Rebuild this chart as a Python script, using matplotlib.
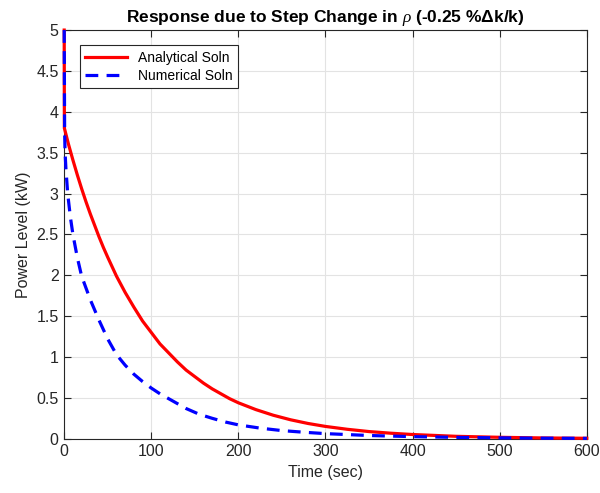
import matplotlib
matplotlib.use("Agg")
import matplotlib.pyplot as plt

plt.rcParams["font.family"] = ["Liberation Sans", "DejaVu Sans"]
plt.rcParams["mathtext.fontset"] = "custom"
plt.rcParams["mathtext.it"] = "Liberation Serif:italic"

# analytical solution
t_ana = [0, 0.2, 5, 10, 15, 20, 25, 30, 35, 40, 45, 50, 60, 70, 80, 90, 100, 110, 120,
         130, 140, 150, 160, 170, 180, 190, 200, 220, 240, 260, 280, 300, 325, 350,
         375, 400, 450, 500, 550, 600]
p_ana = [5.0, 3.8, 3.60, 3.41, 3.23, 3.06, 2.90, 2.75, 2.61, 2.47, 2.34, 2.22, 1.99,
         1.79, 1.61, 1.44, 1.30, 1.16, 1.05, 0.94, 0.84, 0.76, 0.68, 0.61, 0.55,
         0.49, 0.44, 0.357, 0.288, 0.232, 0.187, 0.151, 0.116, 0.088, 0.068, 0.052,
         0.030, 0.018, 0.010, 0.006]

# numerical solution
t_num = [0, 0.5, 1, 2, 4, 7, 10, 15, 20, 30, 40, 50, 60, 70, 80, 90, 100, 110, 125,
         140, 155, 170, 185, 200, 225, 250, 275, 300, 350, 400, 450, 500, 550, 600]
p_num = [5.0, 3.75, 3.5, 3.3, 3.0, 2.72, 2.5, 2.22, 1.99, 1.70, 1.45, 1.22, 1.03,
         0.90, 0.79, 0.70, 0.62, 0.55, 0.46, 0.37, 0.30, 0.25, 0.205, 0.17, 0.13,
         0.10, 0.08, 0.063, 0.04, 0.026, 0.017, 0.011, 0.007, 0.005]

xticks = [0, 100, 200, 300, 400, 500, 600]
yticks = [0, 0.5, 1, 1.5, 2, 2.5, 3, 3.5, 4, 4.5, 5]
ytick_labels = ["0", "0.5", "1", "1.5", "2", "2.5", "3", "3.5", "4", "4.5", "5"]

fig = plt.figure(figsize=(6, 4.93), dpi=100)
ax = fig.add_axes([0.107, 0.110, 0.871, 0.829])

ax.plot(t_ana, p_ana, color="red", lw=2.3, label="Analytical Soln",
        clip_on=False, zorder=3)
ax.plot(t_num, p_num, color="blue", lw=2.3, ls=(0, (4, 2.6)), label="Numerical Soln",
        clip_on=False, zorder=4)

ax.set_xlim(0, 600)
ax.set_ylim(0, 5)
ax.set_xticks(xticks)
ax.set_yticks(yticks)
ax.set_yticklabels(ytick_labels)
ax.grid(True, color="#e3e3e3", lw=0.8)
ax.set_axisbelow(True)
ax.tick_params(direction="in", top=True, right=True, length=5, labelsize=11.5,
               colors="#262626", pad=4)
for s in ax.spines.values():
    s.set_color("#262626")
    s.set_linewidth(0.8)
    s.set_zorder(2)

ax.set_xlabel("Time (sec)", fontsize=11.5, color="#262626")
ax.set_ylabel("Power Level (kW)", fontsize=11.5, color="#262626")
ax.set_title("Response due to Step Change in $\\rho$ (-0.25 %\u0394k/k)",
             fontsize=12.5, fontweight="bold", pad=6)

leg = ax.legend(loc="upper left", bbox_to_anchor=(0.03, 0.963), borderaxespad=0,
                fontsize=10, fancybox=False, framealpha=1, edgecolor="#262626",
                handlelength=3.0, borderpad=0.4, labelspacing=0.3)
leg.get_frame().set_linewidth(0.8)
leg.set_zorder(5)

fig.savefig("out.png", dpi=100)
